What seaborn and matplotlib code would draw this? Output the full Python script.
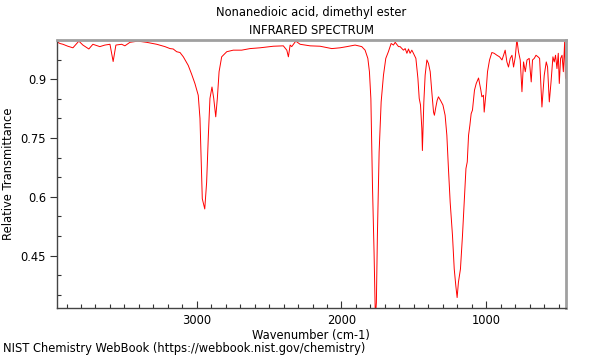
"""
IR spectrum of nonanedioic acid, dimethyl ester (NIST WebBook style).
"""

import matplotlib
matplotlib.use("Agg")
import matplotlib.pyplot as plt
from matplotlib.ticker import FixedLocator, MultipleLocator
import pandas as pd
import seaborn as sns

# values
wavenumber = [
    3965, 3946, 3925, 3891, 3856, 3815, 3787, 3746, 3718, 3670,
    3635, 3600, 3578, 3559, 3519, 3497, 3462, 3407, 3347, 3277,
    3220, 3185, 3163, 3139, 3116, 3093, 3059, 3035, 3013, 2990,
    2978, 2971, 2962, 2945, 2932, 2920, 2909, 2895, 2883, 2869,
    2858, 2846, 2828, 2793, 2748, 2690, 2632, 2563, 2471, 2402,
    2378, 2367, 2355, 2344, 2316, 2286, 2217, 2148, 2067, 2010,
    1963, 1906, 1860, 1837, 1818, 1807, 1797, 1786, 1775, 1766,
    1759, 1752, 1740, 1726, 1710, 1694, 1676, 1657, 1641, 1629,
    1606, 1595, 1572, 1560, 1548, 1537, 1526, 1514, 1503, 1486,
    1472, 1463, 1454, 1445, 1441, 1431, 1422, 1410, 1399, 1387,
    1376, 1364, 1358, 1348, 1339, 1330, 1316, 1299, 1284, 1272,
    1261, 1249, 1233, 1221, 1210, 1201, 1192, 1178, 1164, 1150,
    1140, 1131, 1122, 1113, 1104, 1095, 1081, 1069, 1053, 1037,
    1030, 1019, 1014, 1002, 991, 977, 961, 945, 926, 908,
    891, 880, 869, 857, 846, 834, 822, 811, 799, 788,
    777, 765, 753, 742, 730, 718, 703, 689, 680, 668,
    656, 642, 631, 615, 599, 585, 576, 564, 552, 539,
    530, 521, 511, 502, 495, 486, 476, 467, 458, 452,
]
transmittance = [
    0.995, 0.991, 0.989, 0.984, 0.980, 0.997, 0.987, 0.977, 0.989, 0.983,
    0.987, 0.989, 0.945, 0.987, 0.989, 0.985, 0.994, 0.997, 0.994, 0.989,
    0.983, 0.978, 0.977, 0.970, 0.968, 0.957, 0.935, 0.912, 0.889, 0.859,
    0.800, 0.714, 0.595, 0.569, 0.637, 0.757, 0.851, 0.880, 0.851, 0.804,
    0.851, 0.919, 0.957, 0.970, 0.974, 0.974, 0.978, 0.980, 0.984, 0.985,
    0.974, 0.957, 0.987, 0.983, 0.997, 0.989, 0.985, 0.984, 0.978, 0.980,
    0.983, 0.987, 0.983, 0.974, 0.953, 0.919, 0.850, 0.629, 0.458, 0.290,
    0.330, 0.501, 0.714, 0.842, 0.910, 0.953, 0.970, 0.991, 0.987, 0.994,
    0.983, 0.983, 0.974, 0.978, 0.966, 0.977, 0.966, 0.974, 0.966, 0.953,
    0.902, 0.851, 0.834, 0.774, 0.718, 0.842, 0.910, 0.949, 0.940, 0.919,
    0.868, 0.816, 0.808, 0.829, 0.846, 0.855, 0.846, 0.834, 0.808, 0.757,
    0.672, 0.586, 0.501, 0.416, 0.373, 0.343, 0.382, 0.416, 0.501, 0.603,
    0.672, 0.689, 0.757, 0.782, 0.812, 0.821, 0.872, 0.889, 0.903, 0.872,
    0.855, 0.859, 0.816, 0.863, 0.919, 0.949, 0.968, 0.966, 0.961, 0.957,
    0.949, 0.961, 0.974, 0.944, 0.931, 0.953, 0.961, 0.931, 0.957, 1.002,
    0.970, 0.949, 0.868, 0.944, 0.919, 0.949, 0.953, 0.893, 0.949, 0.953,
    0.961, 0.957, 0.953, 0.829, 0.910, 0.944, 0.931, 0.842, 0.893, 0.957,
    0.944, 0.961, 0.927, 0.966, 0.889, 0.953, 0.961, 0.919, 0.995, 0.902,
]

x_ticks = [3000, 2000, 1000]
y_ticks = [0.45, 0.6, 0.75, 0.9]
y_tick_labels = ["0.45", "0.6", "0.75", "0.9"]

title = "Nonanedioic acid, dimethyl ester\nINFRARED SPECTRUM"
footer = "NIST Chemistry WebBook (https://webbook.nist.gov/chemistry)"

sns.set_theme(style="white")
plt.rcParams["font.family"] = ["DejaVu Sans"]
plt.rcParams["text.color"] = "black"
plt.rcParams["axes.labelcolor"] = "black"

fs = 8.3
df = pd.DataFrame({"wn": wavenumber, "T": transmittance})

fig = plt.figure(figsize=(6, 3.6), dpi=100)
ax = fig.add_axes([0.095, 0.144, 0.848, 0.745])

sns.lineplot(data=df, x="wn", y="T", ax=ax, color="#ff0000", linewidth=0.7,
             sort=False, estimator=None)

ax.set_xlim(3966, 450)
ax.set_ylim(0.316, 1.0)

ax.xaxis.set_major_locator(FixedLocator(x_ticks))
ax.xaxis.set_minor_locator(MultipleLocator(100))
ax.yaxis.set_major_locator(FixedLocator(y_ticks))
ax.set_yticklabels(y_tick_labels)
ax.yaxis.set_minor_locator(MultipleLocator(0.05))

ax.tick_params(axis="x", which="major", direction="in", length=5, width=0.8,
               labelsize=fs, pad=4, colors="#333333", labelcolor="black")
ax.tick_params(axis="x", which="minor", direction="in", length=3, width=0.8,
               colors="#333333")
ax.tick_params(axis="y", which="major", direction="out", length=5, width=0.8,
               labelsize=fs, pad=3, colors="#333333", labelcolor="black")
ax.tick_params(axis="y", which="minor", direction="in", length=3, width=0.8,
               colors="#333333")
ax.tick_params(bottom=True, left=True, which="both")

for side in ["top", "right"]:
    ax.spines[side].set_color("#a0a0a0")
    ax.spines[side].set_linewidth(2)
for side in ["left", "bottom"]:
    ax.spines[side].set_color("#444444")
    ax.spines[side].set_linewidth(1)

ax.set_xlabel("Wavenumber (cm-1)", fontsize=fs, labelpad=1.5)
ax.set_ylabel("Relative Transmittance", fontsize=fs, labelpad=3.5)
ax.set_title(title, fontsize=fs, pad=4, linespacing=1.55)

fig.text(0.005, 0.022, footer, fontsize=fs, ha="left", va="baseline")

fig.savefig("out.png", dpi=100)
